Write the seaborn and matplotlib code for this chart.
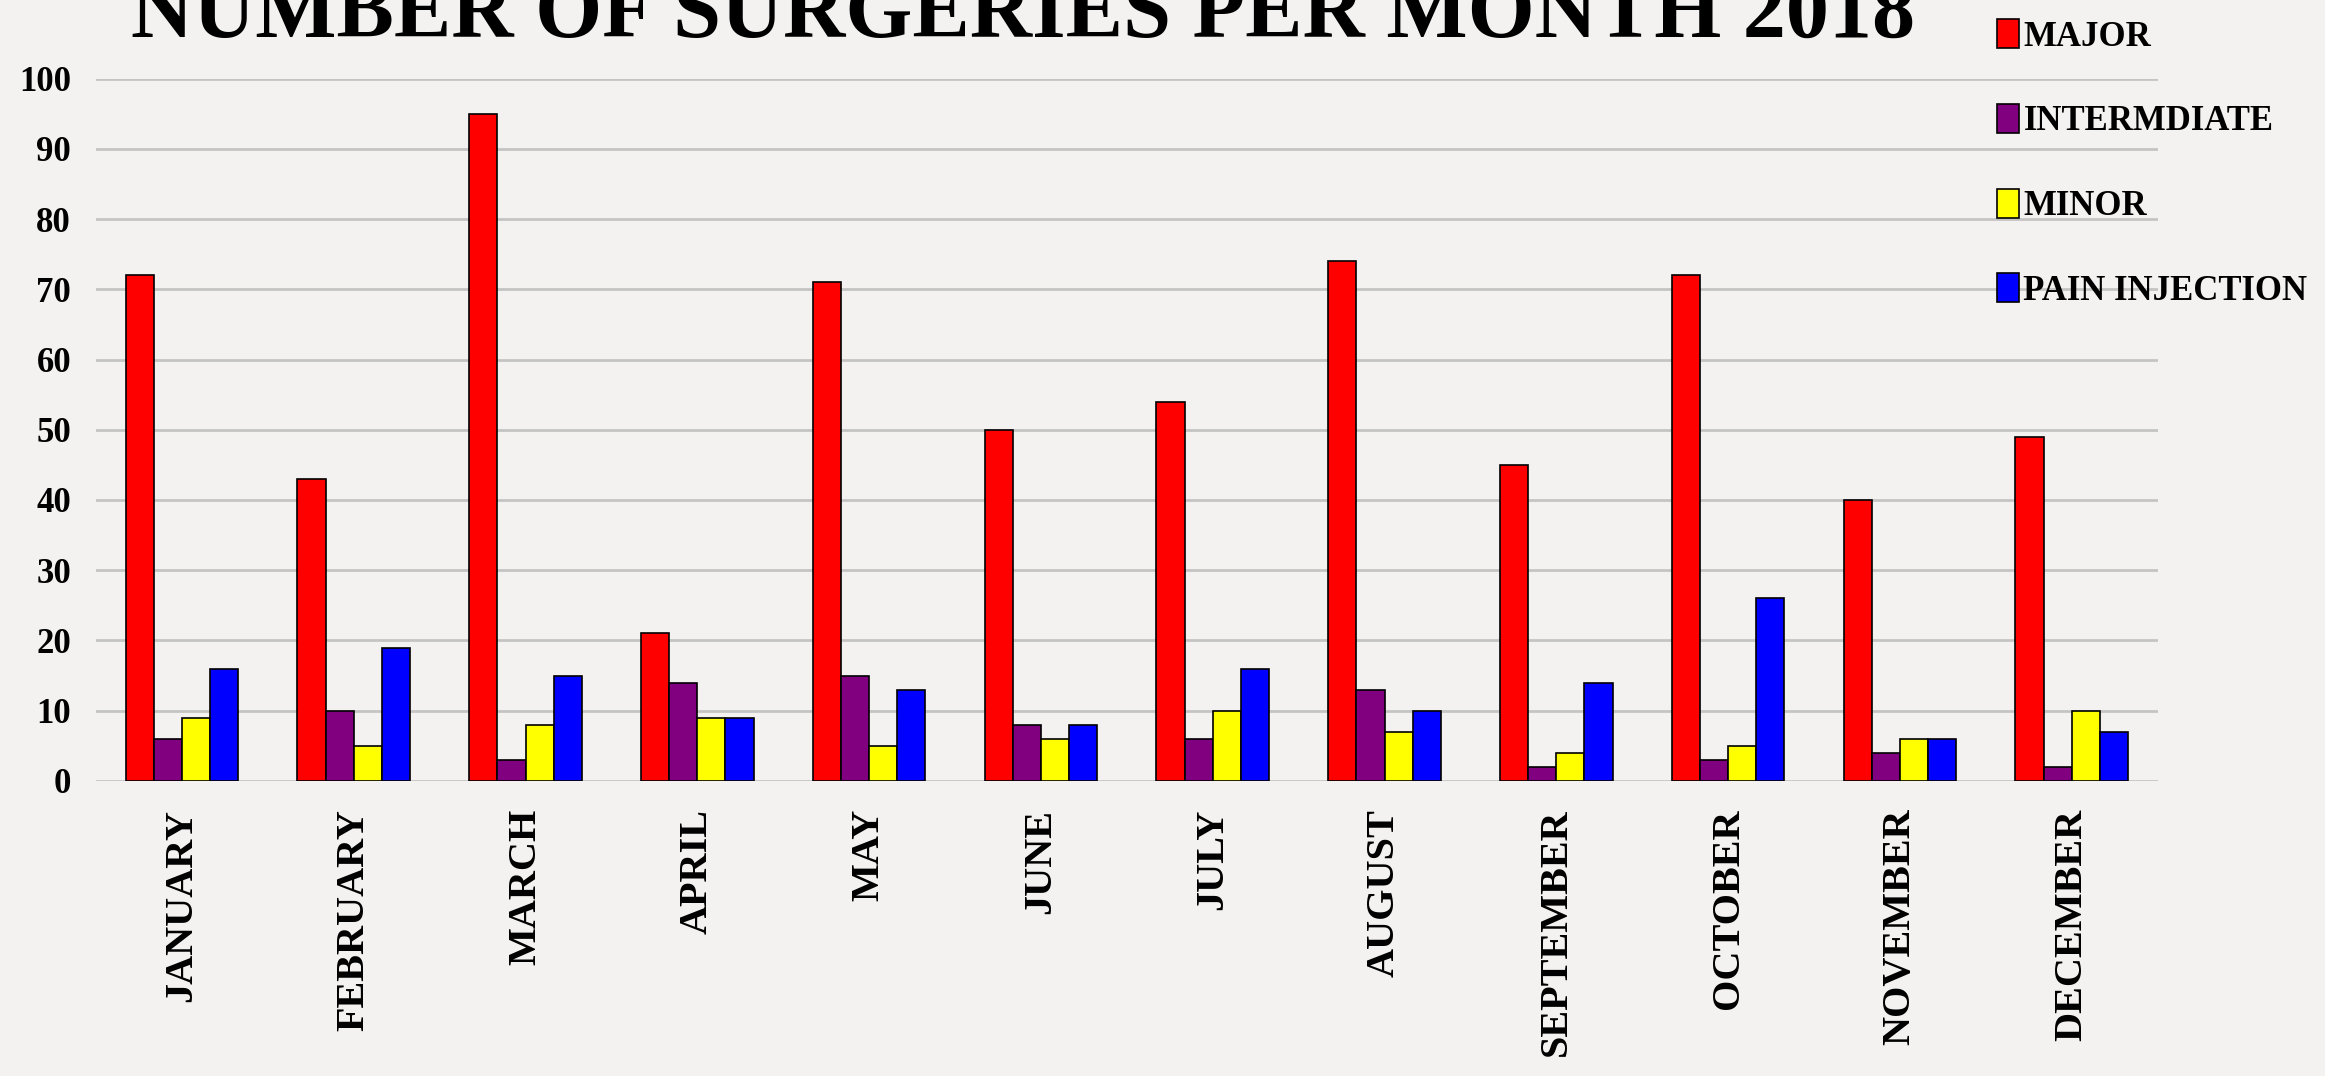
import pandas as pd
import matplotlib.pyplot as plt
import seaborn as sns

months = ['JANUARY', 'FEBRUARY', 'MARCH', 'APRIL', 'MAY', 'JUNE', 'JULY',
          'AUGUST', 'SEPTEMBER', 'OCTOBER', 'NOVEMBER', 'DECEMBER']
major = [72, 43, 95, 21, 71, 50, 54, 74, 45, 72, 40, 49]
intermediate = [6, 10, 3, 14, 15, 8, 6, 13, 2, 3, 4, 2]
minor = [9, 5, 8, 9, 5, 6, 10, 7, 4, 5, 6, 10]
pain_injection = [16, 19, 15, 9, 13, 8, 16, 10, 14, 26, 6, 7]
series_names = ['MAJOR', 'INTERMDIATE', 'MINOR', 'PAIN INJECTION']
colors = ['#ff0000', '#800080', '#ffff00', '#0000ff']

# long format table for seaborn
rows = []
for name, vals in zip(series_names, [major, intermediate, minor, pain_injection]):
    for m, v in zip(months, vals):
        rows.append({'month': m, 'count': v, 'type': name})
df = pd.DataFrame(rows)

sns.set_theme(style='white')
plt.rcParams['font.family'] = ['Liberation Serif', 'DejaVu Serif']
plt.rcParams['font.weight'] = 'bold'
plt.rcParams['text.color'] = 'black'
plt.rcParams['xtick.color'] = 'black'
plt.rcParams['ytick.color'] = 'black'

bg = '#f4f2f1'
fig = plt.figure(figsize=(23.25, 10.76), dpi=100, facecolor=bg)
ax = fig.add_axes([0.0413, 0.2742, 0.8867, 0.6528])
ax.set_facecolor('none')

sns.barplot(data=df, x='month', y='count', hue='type', palette=colors,
            order=months, hue_order=series_names, width=0.656, saturation=1,
            edgecolor='black', linewidth=1.2, ax=ax, zorder=3)

ax.set_ylim(0, 100)
ax.set_xlim(-0.5, 11.5)
ax.set_yticks(range(0, 101, 10))
ax.yaxis.grid(True, color='#c4c4c4', linewidth=2, zorder=0)
ax.set_axisbelow(True)
for s in ax.spines.values():
    s.set_visible(False)
ax.set_xlabel('')
ax.set_ylabel('')
ax.tick_params(axis='y', length=0, pad=18, labelsize=25)
ax.tick_params(axis='x', length=0, pad=20, labelsize=29)
plt.setp(ax.get_xticklabels(), rotation=90, fontweight='bold')
plt.setp(ax.get_yticklabels(), fontweight='bold')

fig.text(0.44, 1 - 37 / 1076, 'NUMBER OF SURGERIES PER MONTH 2018',
         ha='center', va='baseline', fontsize=62, fontweight='bold',
         color='black')

handles, labels = ax.get_legend_handles_labels()
ax.legend(handles, labels, loc='upper left', bbox_to_anchor=(0.8528, 0.995),
          bbox_transform=fig.transFigure, frameon=False, fontsize=25,
          handlelength=0.65, handleheight=0.9, handletextpad=0.12,
          labelspacing=1.45, borderaxespad=0)

fig.savefig('out.png', dpi=100, facecolor=bg)
